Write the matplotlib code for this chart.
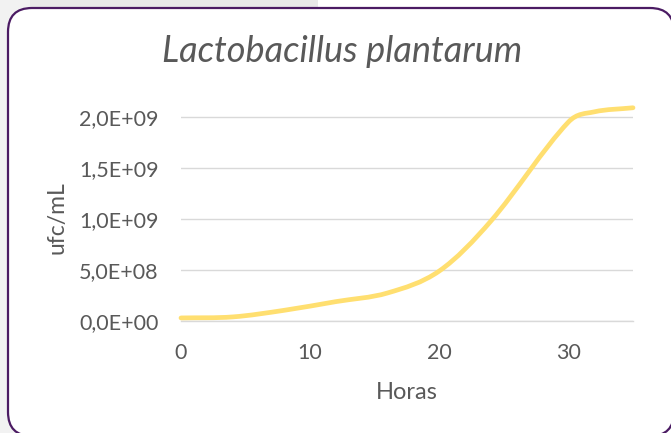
import matplotlib
matplotlib.use("Agg")
import matplotlib.pyplot as plt
from matplotlib.patches import FancyBboxPatch, Rectangle, PathPatch
from matplotlib.path import Path

plt.rcParams['font.family'] = ['Lato', 'DejaVu Sans']

# data
horas = [0, 4, 8, 12, 16, 20, 24, 30, 32, 35]
ufc = [3.0e7, 4.0e7, 1.05e8, 1.9e8, 2.75e8, 4.9e8, 9.8e8, 1.95e9, 2.05e9, 2.09e9]

x_ticks = [0, 10, 20, 30]
y_ticks = [0, 5e8, 1e9, 1.5e9, 2e9]
y_labels = ['0,0E+00', '5,0E+08', '1,0E+09', '1,5E+09', '2,0E+09']

W, H = 671, 433
fig = plt.figure(figsize=(W / 100, H / 100), dpi=100)
fig.patch.set_facecolor('white')

# background / rounded frame in pixel space
bg = fig.add_axes([0, 0, 1, 1])
bg.set_xlim(0, W)
bg.set_ylim(H, 0)
bg.axis('off')
bg.add_patch(Rectangle((0, 0), 318, 40, facecolor='#E8E8E8', edgecolor='none'))
bg.add_patch(Rectangle((0, 0), 30, H, facecolor='#F2F2F2', edgecolor='none'))
bg.add_patch(FancyBboxPatch((8, 8), 666, 428, boxstyle='round,pad=0,rounding_size=24',
                            facecolor='white', edgecolor='#4B1B63', linewidth=1.6))

ax = fig.add_axes([181 / W, 1 - 321 / H, 452 / W, 216.3 / H])
ax.set_facecolor('none')

# smoothed line: cubic Bezier segments with tangents scaled per segment
n = len(horas)
slopes = []
for i in range(n):
    a = max(i - 1, 0)
    b = min(i + 1, n - 1)
    slopes.append((ufc[b] - ufc[a]) / (horas[b] - horas[a]))
verts = [(horas[0], ufc[0])]
codes = [Path.MOVETO]
for i in range(n - 1):
    h = horas[i + 1] - horas[i]
    verts += [(horas[i] + h / 3, ufc[i] + slopes[i] * h / 3),
              (horas[i + 1] - h / 3, ufc[i + 1] - slopes[i + 1] * h / 3),
              (horas[i + 1], ufc[i + 1])]
    codes += [Path.CURVE4] * 3
ax.add_patch(PathPatch(Path(verts, codes), facecolor='none', edgecolor='#FFDF70',
                       linewidth=3.4, capstyle='round', joinstyle='round',
                       clip_on=False, zorder=3))

ax.set_xlim(0, 35)
ax.set_ylim(0, 2.12e9)
ax.set_xticks(x_ticks)
ax.set_yticks(y_ticks)
ax.set_yticklabels(y_labels)
ax.grid(axis='y', color='#D9D9D9', linewidth=1.0)
ax.grid(axis='x', visible=False)
for s in ax.spines.values():
    s.set_visible(False)
ax.spines['bottom'].set_visible(True)
ax.spines['bottom'].set_color('#D9D9D9')
ax.spines['bottom'].set_linewidth(1.0)
ax.tick_params(length=0, labelsize=15.5, labelcolor='#595959')
ax.tick_params(axis='y', pad=16)
ax.tick_params(axis='x', pad=16)

ax.set_xlabel('Horas', fontsize=17, color='#595959')
ax.xaxis.set_label_coords(0.5, -0.28)
ax.set_ylabel('ufc/mL', fontsize=16.5, color='#595959')
ax.yaxis.set_label_coords(-0.25, 0.48)

fig.text(342 / W, 1 - 52 / H, 'Lactobacillus plantarum', fontsize=26, style='italic',
         color='#595959', ha='center', va='center')

fig.savefig('out.png', dpi=100, facecolor='white')
